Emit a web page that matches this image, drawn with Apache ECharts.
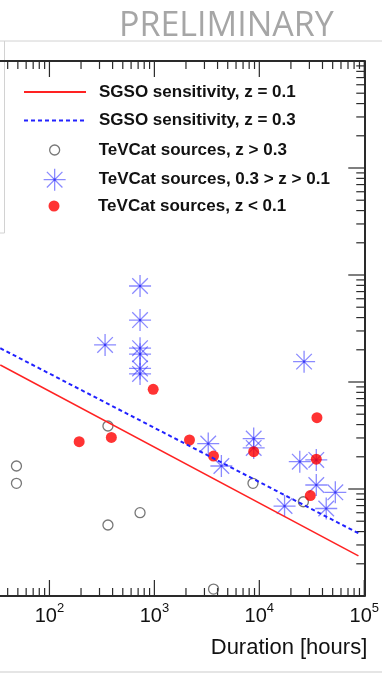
<!DOCTYPE html>
<html>
<head>
    <meta charset="utf-8">
    <title>SGSO sensitivity vs duration</title>
    <script src="https://cdn.jsdelivr.net/npm/echarts@6/dist/echarts.min.js"></script>
    <style>
        html, body { margin: 0; padding: 0; background: #fff; }
        #chart_div { width: 382px; height: 676px; }
    </style>
</head>
<body>
    <div id="chart_div"></div>
    <script>
        // sensitivity curves: duration [hours] -> flux
        const sgsoDuration = [34, 88000];
        const sgsoZ01 = [1.44e-12, 2.37e-14];
        const sgsoZ03 = [2.07e-12, 3.86e-14];

        // TeVCat sources, z > 0.3
        const farX = [48.5, 48.5, 361, 361, 730, 3660, 8700, 26300];
        const farY = [1.64e-13, 1.13e-13, 3.88e-13, 4.61e-14, 6.01e-14, 1.16e-14, 1.13e-13, 7.60e-14];

        // TeVCat sources, 0.3 > z > 0.1
        const midX = [730, 730, 339, 730, 730, 730, 730, 26700, 3260, 8840, 8840, 4350, 24300, 34900, 34900, 53000, 17400, 43400];
        const midY = [7.89e-12, 3.79e-12, 2.22e-12, 2.07e-12, 1.82e-12, 1.34e-12, 1.19e-12, 1.55e-12, 2.66e-13, 2.96e-13, 2.42e-13, 1.64e-13, 1.80e-13, 1.87e-13, 1.09e-13, 9.31e-14, 6.93e-14, 6.57e-14];

        // TeVCat sources, z < 0.1
        const nearX = [192, 389, 974, 2160, 3660, 8840, 35400, 34900, 30600];
        const nearY = [2.77e-13, 3.03e-13, 8.55e-13, 2.87e-13, 2.03e-13, 2.23e-13, 4.64e-13, 1.90e-13, 8.69e-14];

        // axes
        const xMin = 33.8, xMax = 1e5;
        const yMin = 1e-14, yMax = 1e-9;
        const xDecades = [10, 100, 1000, 10000, 100000];
        const yDecades = [1e-14, 1e-13, 1e-12, 1e-11, 1e-10, 1e-9];
        const mantissas = [2, 3, 4, 5, 6, 7, 8, 9];

        const axisColor = '#2a2a2a';
        const font = '"Liberation Sans", Arial, Helvetica, sans-serif';

        function tickList(decades, lo, hi) {
            const out = [];
            decades.forEach(d => {
                if (d >= lo && d <= hi) out.push([d, 1]);
                mantissas.forEach(m => {
                    const v = m * d;
                    if (v >= lo && v <= hi) out.push([v, 0]);
                });
            });
            return out;
        }
        const xTicks = tickList(xDecades, xMin, xMax);
        const yTicks = tickList(yDecades, yMin, yMax);

        const asterisk = 'path://M0,10L20,10M10,0L10,20M2.93,2.93L17.07,17.07M17.07,2.93L2.93,17.07M9,9L11,9L11,11L9,11Z';

        function zip(xs, ys) {
            return xs.map((x, i) => [x, ys[i]]);
        }

        const names = [
            'SGSO sensitivity, z = 0.1',
            'SGSO sensitivity, z = 0.3',
            'TeVCat sources, z > 0.3',
            'TeVCat sources, 0.3 > z > 0.1',
            'TeVCat sources, z < 0.1'
        ];

        // the legend box is placed by its drawn extent, so symbol rows are shifted by half their size
        function legendAt(data, left, top, itemHeight, extra) {
            return Object.assign({
                data: data,
                orient: 'vertical',
                left: left,
                top: top,
                padding: 0,
                itemWidth: 62,
                itemHeight: itemHeight,
                itemGap: 8.5,
                selectedMode: false,
                textStyle: {
                    fontFamily: font,
                    fontWeight: 'bold',
                    fontSize: 17,
                    lineHeight: 20,
                    color: '#111',
                    padding: [0, 0, 0, 8]
                }
            }, extra || {});
        }

        const myChart = echarts.init(document.getElementById('chart_div'));

        const option = {
            animation: false,
            backgroundColor: '#fff',
            title: {
                text: 'PRELIMINARY',
                left: 119,
                top: 9,
                padding: 0,
                textStyle: {
                    fontFamily: '"Open Sans", sans-serif',
                    fontSize: 34,
                    fontWeight: 'normal',
                    color: '#a6a6a6'
                }
            },
            legend: [
                legendAt([names[0], names[1]], 23, 82, 14, { itemStyle: { color: 'rgba(0,0,0,0)', borderWidth: 0 } }),
                legendAt([names[2]], 49, 140, 10, { itemStyle: { borderWidth: 1.3 } }),
                legendAt([names[3]], 43, 168, 22, { itemStyle: { borderWidth: 1.3 } }),
                legendAt([names[4]], 48.5, 196, 11)
            ],
            grid: {
                left: 0,
                right: 13.5,
                top: 61,
                bottom: 80
            },
            xAxis: [
                {
                    type: 'log',
                    min: xMin,
                    max: xMax,
                    position: 'bottom',
                    axisLine: { show: true, lineStyle: { color: axisColor, width: 2 } },
                    axisTick: { show: false },
                    splitLine: { show: false },
                    axisLabel: {
                        showMinLabel: false,
                        margin: 6,
                        color: '#111',
                        formatter: v => '{b|10}{s|' + Math.round(Math.log10(v)) + '}',
                        rich: {
                            b: { fontFamily: font, fontSize: 20, lineHeight: 24, verticalAlign: 'bottom' },
                            s: { fontFamily: font, fontSize: 13, lineHeight: 24, verticalAlign: 'top' }
                        }
                    },
                    name: 'Duration [hours]',
                    nameLocation: 'end',
                    nameGap: 3,
                    nameTextStyle: {
                        fontFamily: font,
                        fontSize: 22,
                        color: '#111',
                        align: 'right',
                        verticalAlign: 'top',
                        padding: [41, 0, 0, 0]
                    }
                },
                {
                    type: 'log',
                    min: xMin,
                    max: xMax,
                    position: 'top',
                    axisLine: { show: true, lineStyle: { color: axisColor, width: 2 } },
                    axisTick: { show: false },
                    axisLabel: { show: false },
                    splitLine: { show: false }
                }
            ],
            yAxis: {
                type: 'log',
                min: yMin,
                max: yMax,
                position: 'right',
                axisLine: { show: true, lineStyle: { color: axisColor, width: 2 } },
                axisTick: { show: false },
                axisLabel: { show: false },
                splitLine: { show: false }
            },
            series: [
                {
                    name: 'x ticks',
                    type: 'custom',
                    silent: true,
                    clip: false,
                    encode: { x: 0, y: 1 },
                    data: xTicks.map(t => [t[0], yMin, t[1]]),
                    renderItem: (params, api) => {
                        const v = api.value(0);
                        const len = api.value(2) ? 16 : 8;
                        const b = api.coord([v, yMin]);
                        const t = api.coord([v, yMax]);
                        const st = { stroke: axisColor, lineWidth: 1.2 };
                        return {
                            type: 'group',
                            children: [
                                { type: 'line', shape: { x1: b[0], y1: b[1], x2: b[0], y2: b[1] - len }, style: st },
                                { type: 'line', shape: { x1: t[0], y1: t[1], x2: t[0], y2: t[1] + len }, style: st }
                            ]
                        };
                    }
                },
                {
                    name: 'y ticks',
                    type: 'custom',
                    silent: true,
                    clip: false,
                    encode: { x: 0, y: 1 },
                    data: yTicks.map(t => [xMax, t[0], t[1]]),
                    renderItem: (params, api) => {
                        const len = api.value(2) ? 16 : 8;
                        const p = api.coord([xMax, api.value(1)]);
                        return {
                            type: 'line',
                            shape: { x1: p[0], y1: p[1], x2: p[0] - len, y2: p[1] },
                            style: { stroke: axisColor, lineWidth: 1.2 }
                        };
                    }
                },
                {
                    name: names[0],
                    type: 'line',
                    symbol: 'none',
                    data: zip(sgsoDuration, sgsoZ01),
                    lineStyle: { color: '#ff2222', width: 1.6 },
                    itemStyle: { color: '#ff2222' }
                },
                {
                    name: names[1],
                    type: 'line',
                    symbol: 'none',
                    data: zip(sgsoDuration, sgsoZ03),
                    lineStyle: { color: '#2222ff', width: 2, type: [4, 3] },
                    itemStyle: { color: '#2222ff' }
                },
                {
                    name: names[2],
                    type: 'scatter',
                    symbol: 'circle',
                    symbolSize: 10,
                    data: zip(farX, farY),
                    itemStyle: { color: 'rgba(255,255,255,0)', borderColor: '#555', borderWidth: 1.3 }
                },
                {
                    name: names[3],
                    type: 'scatter',
                    symbol: asterisk,
                    symbolSize: 22,
                    data: zip(midX, midY),
                    itemStyle: { color: '#0000ee', borderColor: 'rgba(60,60,255,0.75)', borderWidth: 1.3 }
                },
                {
                    name: names[4],
                    type: 'scatter',
                    symbol: 'circle',
                    symbolSize: 11,
                    data: zip(nearX, nearY),
                    itemStyle: { color: '#ff0000' }
                }
            ],
            graphic: [
                { type: 'line', shape: { x1: 0, y1: 41, x2: 382, y2: 41 }, style: { stroke: '#d2d2d2', lineWidth: 1 } },
                { type: 'line', shape: { x1: 4.5, y1: 41, x2: 4.5, y2: 233 }, style: { stroke: '#d2d2d2', lineWidth: 1 } },
                { type: 'line', shape: { x1: 0, y1: 233, x2: 4.5, y2: 233 }, style: { stroke: '#d2d2d2', lineWidth: 1 } },
                { type: 'line', shape: { x1: 0, y1: 672, x2: 382, y2: 672 }, style: { stroke: '#dcdcdc', lineWidth: 1.5 } }
            ]
        };

        myChart.setOption(option);

        window.addEventListener('resize', () => {
            myChart.resize();
        });
    </script>
</body>
</html>
